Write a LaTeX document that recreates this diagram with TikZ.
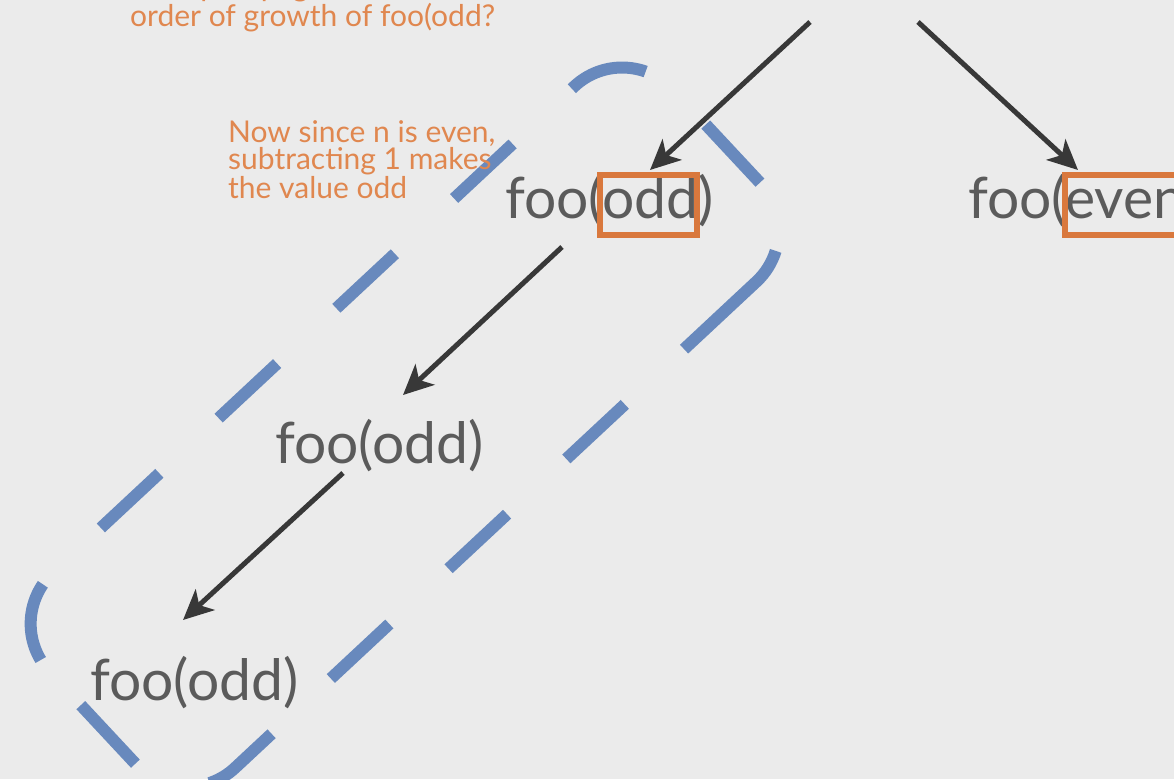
\documentclass[tikz,border=0pt]{standalone}
\usepackage{fontspec}
\setmainfont{Lato}
\usetikzlibrary{arrows.meta,calc}
\definecolor{bgc}{HTML}{EBEBEB}
\definecolor{footext}{HTML}{5B5B5B}
\definecolor{notetext}{HTML}{E0874F}
\definecolor{boxc}{HTML}{D9783D}
\definecolor{groupc}{HTML}{6889BD}
\definecolor{arrowc}{HTML}{383838}
\begin{document}
\begin{tikzpicture}[x=1pt,y=-1pt,
  foo/.style={anchor=base west, inner sep=0pt, text=footext, font=\fontsize{57}{62}\selectfont},
  note/.style={anchor=north west, inner sep=0pt, text=notetext, align=left, font=\fontsize{30}{25}\selectfont},
  arr/.style={draw=arrowc, line width=5pt, -{Stealth[length=30pt,width=28pt,inset=8pt]}},
  hl/.style={draw=boxc, line width=6pt},
  groupline/.style={draw=groupc, line width=12pt},
  group/.style={groupline, dash pattern=on 80pt off 81pt}]
\useasboundingbox (0,0) rectangle (1174,779);
\fill[bgc] (0,0) rectangle (1174,779);
\clip (0,0) rectangle (1174,779);

% dashed group outline (rounded rectangle, drawn in three runs)
\begin{scope}[shift={(404.7,427.1)}, rotate=43]
  \draw[group, dash phase=80pt] (257.5,133.5) -- (-356.5,133.5) arc[start angle=90, end angle=180, radius=70]
     -- (-426.5,-40);
  \draw[group, dash phase=123pt] (-426.5,-40) -- (-426.5,-63.5) arc[start angle=180, end angle=270, radius=70]
     -- (356.5,-133.5) arc[start angle=270, end angle=360, radius=70]
     -- (426.5,63.5);
  \draw[groupline] (391.5,124.1) arc[start angle=60, end angle=90, radius=70] -- (257.5,133.5);
\end{scope}

% texts
\node[note] (q) at (130,-25.5) {examples page, what is the\\order of growth of foo(odd?};
\node[note] (n) at (228,120.5) {Now since n is even,\\subtracting 1 makes\\the value odd};

\node[foo] (T) at (760,-12) {foo(even)};
\node[foo] (M1) at (505,218) {foo(odd)};
\node[foo] (R) at (968,218) {foo(even)};
\node[foo] (M2) at (275,463) {foo(odd)};
\node[foo] (M3) at (90,700) {foo(odd)};

% highlight boxes
\draw[hl] ($(M1.base west)+(95,-43)$) rectangle ($(M1.base west)+(192,17)$);
\draw[hl] ($(R.base west)+(97,-43)$) rectangle ($(R.base west)+(222,17)$);

% arrows
\draw[arr] ($(T.base west)+(50,34)$) -- ($(M1.base west)+(145,-48)$);
\draw[arr] ($(T.base west)+(158,34)$) -- ($(R.base west)+(110,-48)$);
\draw[arr] ($(M1.base west)+(57,29)$) -- ($(M2.base west)+(128,-68)$);
\draw[arr] ($(M2.base west)+(68,10)$) -- ($(M3.base west)+(93,-80)$);
\end{tikzpicture}
\end{document}
